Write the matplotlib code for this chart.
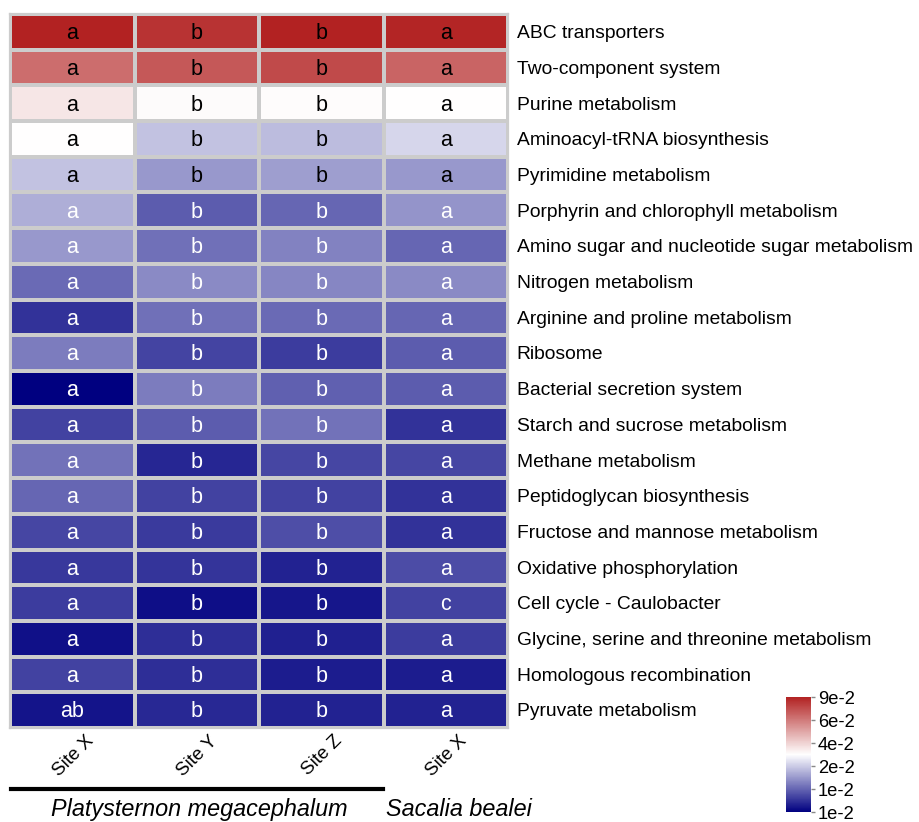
import numpy as np
import matplotlib
matplotlib.use("Agg")
import matplotlib.pyplot as plt
from matplotlib.colors import LinearSegmentedColormap

plt.rcParams['font.family'] = ['Liberation Sans', 'DejaVu Sans']

# pathways (top to bottom)
pathways = ["ABC transporters", "Two-component system", "Purine metabolism",
            "Aminoacyl-tRNA biosynthesis", "Pyrimidine metabolism",
            "Porphyrin and chlorophyll metabolism",
            "Amino sugar and nucleotide sugar metabolism", "Nitrogen metabolism",
            "Arginine and proline metabolism", "Ribosome",
            "Bacterial secretion system", "Starch and sucrose metabolism",
            "Methane metabolism", "Peptidoglycan biosynthesis",
            "Fructose and mannose metabolism", "Oxidative phosphorylation",
            "Cell cycle - Caulobacter", "Glycine, serine and threonine metabolism",
            "Homologous recombination", "Pyruvate metabolism"]

sites = ["Site X", "Site Y", "Site Z", "Site X"]

# scaled abundance (position on the colour scale, 0 = lowest, 1 = highest)
site1 = [1.00, 0.83, 0.556, 0.50, 0.38, 0.34, 0.30, 0.21, 0.10, 0.245,
         0.00, 0.13, 0.225, 0.20, 0.14, 0.11, 0.12, 0.035, 0.13, 0.04]
site2 = [0.96, 0.875, 0.51, 0.38, 0.30, 0.18, 0.22, 0.27, 0.22, 0.135,
         0.245, 0.18, 0.075, 0.13, 0.115, 0.105, 0.03, 0.09, 0.09, 0.08]
site3 = [1.00, 0.91, 0.505, 0.37, 0.31, 0.20, 0.255, 0.265, 0.21, 0.12,
         0.19, 0.225, 0.14, 0.13, 0.155, 0.07, 0.045, 0.065, 0.055, 0.07]
site4 = [0.99, 0.85, 0.50, 0.42, 0.30, 0.29, 0.20, 0.27, 0.20, 0.18,
         0.18, 0.10, 0.14, 0.10, 0.10, 0.15, 0.13, 0.12, 0.055, 0.07]

# significance letters
let1 = ["a"] * 19 + ["ab"]
let2 = ["b"] * 20
let3 = ["b"] * 20
let4 = ["a"] * 16 + ["c"] + ["a"] * 3

cbar_ticks = [0.0, 0.2, 0.4, 0.6, 0.8, 1.0]
cbar_labels = ["1e-2", "1e-2", "2e-2", "4e-2", "6e-2", "9e-2"]

data = np.array([site1, site2, site3, site4]).T
letters = np.array([let1, let2, let3, let4]).T
n_rows, n_cols = data.shape

cmap = LinearSegmentedColormap.from_list("nwf", ["#000080", "#FFFFFF", "#B22222"])

fig = plt.figure(figsize=(9.19, 8.22), dpi=100)
ax = fig.add_axes([10/919, 1 - 728/822, 498/919, 714/822])
mesh = ax.pcolormesh(data, cmap=cmap, vmin=0, vmax=1,
                     edgecolors="#CCCCCC", linewidth=1.6)
ax.set_xlim(0, n_cols)
ax.set_ylim(n_rows, 0)
for s in ax.spines.values():
    s.set_color("#CCCCCC")
    s.set_linewidth(1.6)
ax.set_xticks([])
ax.set_yticks([])

for i in range(n_rows):
    for j in range(n_cols):
        col = "black" if i < 5 else "white"
        ax.text(j + 0.5, i + 0.55, letters[i, j], ha="center", va="center",
                fontsize=15.5, color=col)
    ax.text(n_cols + 0.07, i + 0.55, pathways[i], ha="left", va="center",
            fontsize=13.9, clip_on=False)

for j, s in enumerate(sites):
    ax.text(j + 0.6, n_rows + 0.12, s, ha="right", va="top", rotation=45,
            fontsize=13.5, rotation_mode="anchor", clip_on=False)

# species annotation
fig.add_artist(plt.Line2D([11/919, 383/919], [1 - 789/822, 1 - 789/822],
                          color="black", linewidth=3))
fig.text(199/919, 1 - 809/822, "Platysternon megacephalum", ha="center",
         va="center", fontsize=16.8, style="italic")
fig.text(386/919, 1 - 809/822, "Sacalia bealei", ha="left", va="center",
         fontsize=16.8, style="italic")

# colour bar
cax = fig.add_axes([786/919, 1 - 812/822, 25/919, 115/822])
cb = fig.colorbar(mesh, cax=cax, ticks=cbar_ticks)
cb.ax.set_yticklabels(cbar_labels)
cb.outline.set_visible(False)
cb.ax.tick_params(length=3, width=1, color="#888888", labelsize=13.2, pad=2)

fig.savefig("out.png", dpi=100)
